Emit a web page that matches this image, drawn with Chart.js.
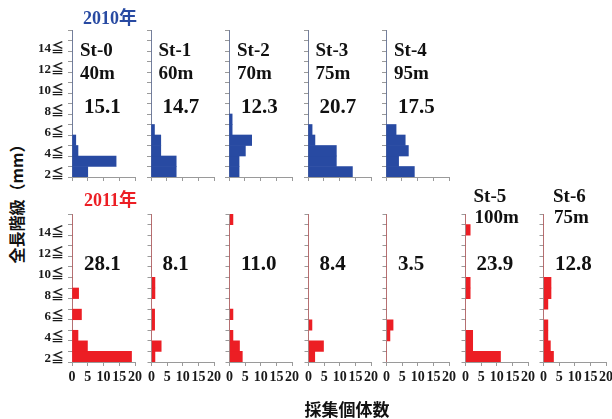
<!DOCTYPE html>
<html>
<head>
<meta charset="utf-8">
<script src="https://cdn.jsdelivr.net/npm/chart.js@4"></script>
<style>
body { margin: 0; background: #fff; }
#wrap { position: relative; width: 612px; height: 419px; overflow: hidden; }
#wrap canvas { position: absolute; }
.t { position: absolute; white-space: nowrap; line-height: 1; font-weight: bold; color: #111;
     font-family: "Liberation Serif", "Noto Sans CJK JP", serif; transform: translateY(-50%); }
.jp { font-family: "Noto Sans CJK JP", sans-serif; }
</style>
</head>
<body>
<div id="wrap"></div>
<script>
// length classes (mm), lower bound of each 1 mm class
var lengthClasses = [2, 3, 4, 5, 6, 7, 8, 9, 10, 11, 12, 13, 14, 15];
var xTicks = [0, 5, 10, 15, 20];

var stations = ['St-0', 'St-1', 'St-2', 'St-3', 'St-4', 'St-5', 'St-6'];
var depths = ['40m', '60m', '70m', '75m', '95m', '100m', '75m'];

// 2010 counts per class (St-0 .. St-4)
var st0_2010 = [5, 14, 1.9, 1.2, 0, 0, 0, 0, 0, 0, 0, 0, 0, 0];
var st1_2010 = [8, 8, 3.1, 3.1, 1.1, 0, 0, 0, 0, 0, 0, 0, 0, 0];
var st2_2010 = [3.2, 3.2, 5.2, 7.2, 1, 1, 0, 0, 0, 0, 0, 0, 0, 0];
var st3_2010 = [14.1, 9, 9, 2.2, 1.3, 0, 0, 0, 0, 0, 0, 0, 0, 0];
var st4_2010 = [9, 4, 7.1, 6.1, 3.2, 0, 0, 0, 0, 0, 0, 0, 0, 0];
var totals2010 = ['15.1', '14.7', '12.3', '20.7', '17.5'];

// 2011 counts per class (St-0 .. St-6)
var st0_2011 = [18.9, 4.9, 1.9, 0, 3, 0, 2.1, 0, 0, 0, 0, 0, 0, 0];
var st1_2011 = [1.1, 3.1, 0, 1, 1, 0, 1.1, 1.1, 0, 0, 0, 0, 0, 0];
var st2_2011 = [4.1, 3.2, 1.1, 0, 1.1, 0, 0, 0, 0, 0, 0, 0, 0, 1.1];
var st3_2011 = [2, 4.8, 0, 1.1, 0, 0, 0, 0, 0, 0, 0, 0, 0, 0];
var st4_2011 = [0, 0, 1.1, 2.1, 0, 0, 0, 0, 0, 0, 0, 0, 0, 0];
var st5_2011 = [11.2, 2.3, 2.3, 0, 0, 0, 1.5, 1.5, 0, 0, 0, 0, 1.5, 0];
var st6_2011 = [3.2, 2.2, 1.4, 1.4, 0, 1.4, 2.4, 2.4, 0, 0, 0, 0, 0, 0];
var totals2011 = ['28.1', '8.1', '11.0', '8.4', '3.5', '23.9', '12.8'];

var rows2010 = [st0_2010, st1_2010, st2_2010, st3_2010, st4_2010];
var rows2011 = [st0_2011, st1_2011, st2_2011, st3_2011, st4_2011, st5_2011, st6_2011];

var blue = 'rgb(40, 74, 162)';
var red = 'rgb(236, 30, 36)';
var axisColor = '#9a9a9a';

// panel geometry
var colX = [72, 150.5, 229, 307.5, 386, 464.5, 543];
var plotW = 63;
var rowTop = [30, 214];
var rowH = [147, 148];

Chart.defaults.font.family = "'Liberation Serif', 'Noto Sans CJK JP', serif";
Chart.defaults.font.weight = 'bold';
Chart.defaults.color = '#1a1a1a';

var wrap = document.getElementById('wrap');

function addText(txt, x, y, size, color, cls) {
  var d = document.createElement('div');
  d.className = 't' + (cls ? ' ' + cls : '');
  d.textContent = txt;
  d.style.left = x + 'px';
  d.style.top = y + 'px';
  d.style.fontSize = size + 'px';
  if (color) d.style.color = color;
  wrap.appendChild(d);
  return d;
}

function makePanel(col, row, counts, color) {
  var first = col === 0;
  var L = first ? 40 : 6;
  var T = 14, R = 10;
  var B = row === 0 ? 16 : 30;
  var w = L + plotW + R;
  var h = T + rowH[row] + B;

  var c = document.createElement('canvas');
  c.width = w; c.height = h;
  c.style.left = (colX[col] - L) + 'px';
  c.style.top = (rowTop[row] - T) + 'px';
  c.style.width = w + 'px';
  c.style.height = h + 'px';
  wrap.appendChild(c);

  var pts = lengthClasses.map(function (v, i) { return { x: counts[i], y: v + 0.5 }; });

  new Chart(c, {
    type: 'bar',
    data: {
      datasets: [{
        data: pts,
        backgroundColor: color,
        borderWidth: 0,
        barPercentage: 1,
        categoryPercentage: 1
      }]
    },
    options: {
      indexAxis: 'y',
      responsive: false,
      animation: false,
      events: [],
      layout: { padding: { left: 0, right: R, top: T, bottom: 0 } },
      plugins: { legend: { display: false }, tooltip: { enabled: false } },
      scales: {
        x: {
          type: 'linear',
          min: 0, max: 20,
          afterBuildTicks: function (s) { s.ticks = xTicks.map(function (v) { return { value: v }; }); },
          afterFit: function (s) { s.height = B; },
          grid: { drawOnChartArea: false, drawTicks: true, tickLength: 4, color: axisColor },
          border: { display: true, color: axisColor },
          ticks: {
            display: row === 1,
            autoSkip: false, maxRotation: 0, minRotation: 0,
            padding: 3,
            font: { size: 14, weight: 'bold' }
          }
        },
        y: {
          type: 'linear',
          min: 2, max: 16,
          offset: false,
          afterFit: function (s) { s.width = L; },
          grid: { offset: false, drawOnChartArea: false, drawTicks: true, tickLength: 4, color: axisColor },
          border: { display: true, color: axisColor },
          ticks: {
            display: first,
            stepSize: 1,
            autoSkip: false,
            padding: 4,
            labelOffset: row === 0 ? -2 : -3,
            font: { size: 13, weight: 'bold' },
            callback: function (v) { return (v % 2 === 0 && v < 16) ? v + '≦' : ''; }
          }
        }
      }
    }
  });
}

rows2010.forEach(function (d, i) { makePanel(i, 0, d, blue); });
rows2011.forEach(function (d, i) { makePanel(i, 1, d, red); });

// year titles
addText('2010年', 83, 18, 18, blue);
addText('2011年', 84, 200, 18, red);

// station labels, 2010 row
for (var i = 0; i < 5; i++) {
  addText(stations[i], colX[i] + 8, 49, 19);
  addText(depths[i], colX[i] + 8, 72, 19);
  addText(totals2010[i], colX[i] + 12, 106, 21);
}
// 2011 row
for (var j = 0; j < 7; j++) {
  addText(totals2011[j], colX[j] + 12, 263, 21);
}
addText(stations[5], colX[5] + 9, 195, 19);
addText(depths[5], colX[5] + 10, 216, 19);
addText(stations[6], colX[6] + 10, 195, 19);
addText(depths[6], colX[6] + 11, 216, 19);

// axis titles
var yt = addText('全長階級（mm）', 16, 200, 16, null, 'jp');
yt.style.transform = 'translate(-50%, -50%) rotate(-90deg)';
var xt = addText('採集個体数', 347, 408, 17, null, 'jp');
xt.style.transform = 'translate(-50%, -50%)';
</script>
</body>
</html>
